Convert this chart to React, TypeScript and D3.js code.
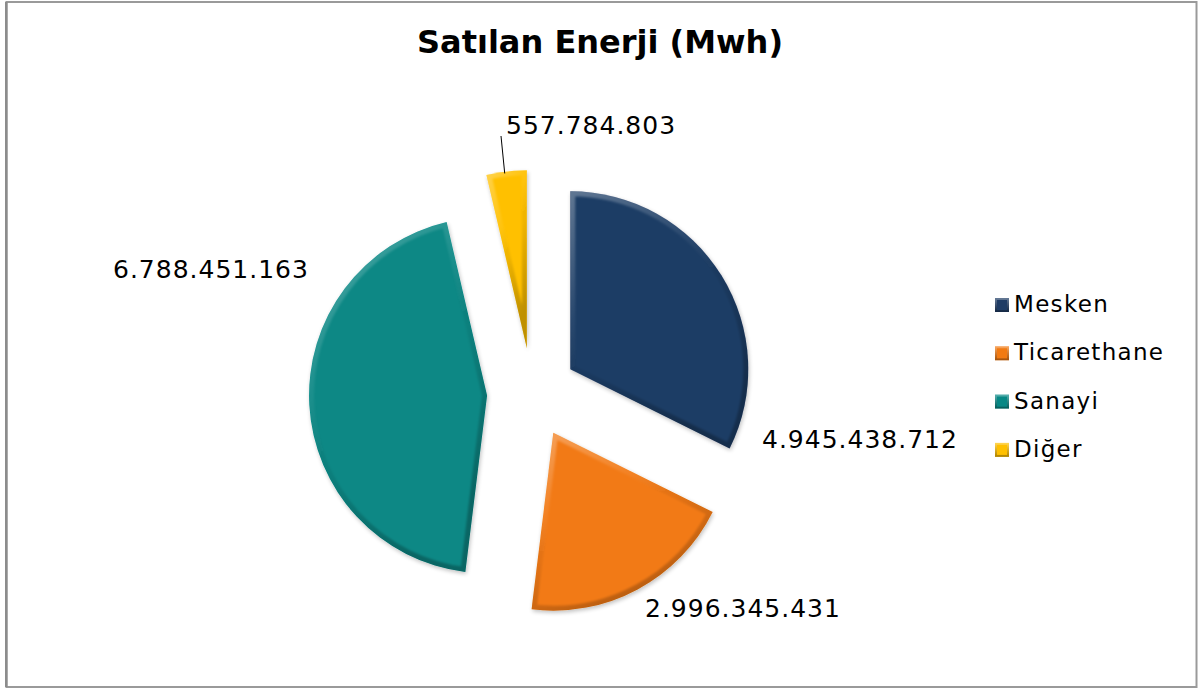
import React from "react";
import * as d3 from "d3";

const categories = ["Mesken", "Ticarethane", "Sanayi", "Diğer"];
const values = [4945438712, 2996345431, 6788451163, 557784803];
const labels = ["4.945.438.712", "2.996.345.431", "6.788.451.163", "557.784.803"];
const colors = ["#1F3C65", "#F27A12", "#078885", "#FFC000"];
const title = "Satılan Enerji (Mwh)";

const W = 1198;
const H = 688;
const cx = 532;
const cy = 393;
const R = 178;
const explode = 45;

const labelPos: [number, number, string][] = [
  [762, 448, "start"],
  [645, 617, "start"],
  [113, 278, "start"],
  [506, 134, "start"],
];

export default function App() {
  const pie = d3.pie<number>().sort(null).startAngle(0).endAngle(2 * Math.PI)(values);
  const arc = d3.arc<d3.PieArcDatum<number>>().innerRadius(0).outerRadius(R);

  const slices = pie.map((d, i) => {
    const mid = (d.startAngle + d.endAngle) / 2;
    const dx = explode * Math.sin(mid);
    const dy = -explode * Math.cos(mid);
    return { d, i, dx, dy, path: arc(d) as string, mid };
  });

  const dg = slices[3];
  const lx1 = cx + dg.dx + (R - 2) * Math.sin(dg.mid) - 2;
  const ly1 = cy + dg.dy - (R - 2) * Math.cos(dg.mid);

  return (
    <div style={{ position: "fixed", left: 0, top: 0, width: W, height: H, background: "#fff" }}>
      <svg width={W} height={H} style={{ display: "block" }}>
        <defs>
          {slices.map((s) => (
            <clipPath id={`clip${s.i}`} key={s.i}>
              <path d={s.path} />
            </clipPath>
          ))}
          <linearGradient id="bevel" x1="0" y1="0" x2="0.5" y2="1">
            <stop offset="0" stopColor="#fff" stopOpacity="0.3" />
            <stop offset="0.4" stopColor="#fff" stopOpacity="0.06" />
            <stop offset="0.6" stopColor="#000" stopOpacity="0.06" />
            <stop offset="1" stopColor="#000" stopOpacity="0.25" />
          </linearGradient>
          <filter id="soft" x="-10%" y="-10%" width="120%" height="120%">
            <feGaussianBlur stdDeviation="1.2" />
          </filter>
          <filter id="shadow" x="-20%" y="-20%" width="140%" height="140%">
            <feGaussianBlur in="SourceAlpha" stdDeviation="2" />
            <feOffset dx="1" dy="1.5" result="off" />
            <feComponentTransfer>
              <feFuncA type="linear" slope="0.25" />
            </feComponentTransfer>
            <feMerge>
              <feMergeNode />
              <feMergeNode in="SourceGraphic" />
            </feMerge>
          </filter>
          <linearGradient id="legbev" x1="0" y1="0" x2="0" y2="1">
            <stop offset="0" stopColor="#fff" stopOpacity="0.3" />
            <stop offset="1" stopColor="#000" stopOpacity="0.3" />
          </linearGradient>
        </defs>
        <rect x={6.5} y={2} width={1190} height={685} fill="#fff" stroke="#9a9a9a" strokeWidth={2} />
        <rect x={5} y={2} width={2.5} height={685} fill="#8c8c8c" />
        <text
          x={600}
          y={53}
          textAnchor="middle"
          fontFamily="DejaVu Sans, Verdana, sans-serif"
          fontWeight="bold"
          fontSize={32}
          fill="#000"
        >
          {title}
        </text>
        {slices.map((s) => (
          <g key={s.i} transform={`translate(${cx + s.dx},${cy + s.dy})`}>
            <g filter="url(#shadow)">
              <path d={s.path} fill={colors[s.i]} />
            </g>
            <g clipPath={`url(#clip${s.i})`}>
              <path d={s.path} fill="none" stroke="url(#bevel)" strokeWidth={10} strokeLinejoin="miter" filter="url(#soft)" />
            </g>
          </g>
        ))}
        <line x1={lx1} y1={ly1} x2={501} y2={136} stroke="#000" strokeWidth={1} />
        {slices.map((s) => (
          <text
            key={`l${s.i}`}
            x={labelPos[s.i][0]}
            y={labelPos[s.i][1]}
            textAnchor={labelPos[s.i][2] as any}
            fontFamily="DejaVu Sans, Verdana, sans-serif"
            fontSize={25}
            letterSpacing={1}
            fill="#000"
          >
            {labels[s.i]}
          </text>
        ))}
        {categories.map((c, i) => {
          const y = 312 + i * 48.3;
          return (
            <g key={c}>
              <rect x={995} y={y - 14} width={14} height={14} fill={colors[i]} />
              <rect x={996} y={y - 13} width={12} height={12} fill="none" stroke="url(#legbev)" strokeWidth={2} />
              <text
                x={1014}
                y={y}
                fontFamily="DejaVu Sans, Verdana, sans-serif"
                fontSize={23}
                letterSpacing={1.3}
                fill="#000"
              >
                {c}
              </text>
            </g>
          );
        })}
      </svg>
    </div>
  );
}
